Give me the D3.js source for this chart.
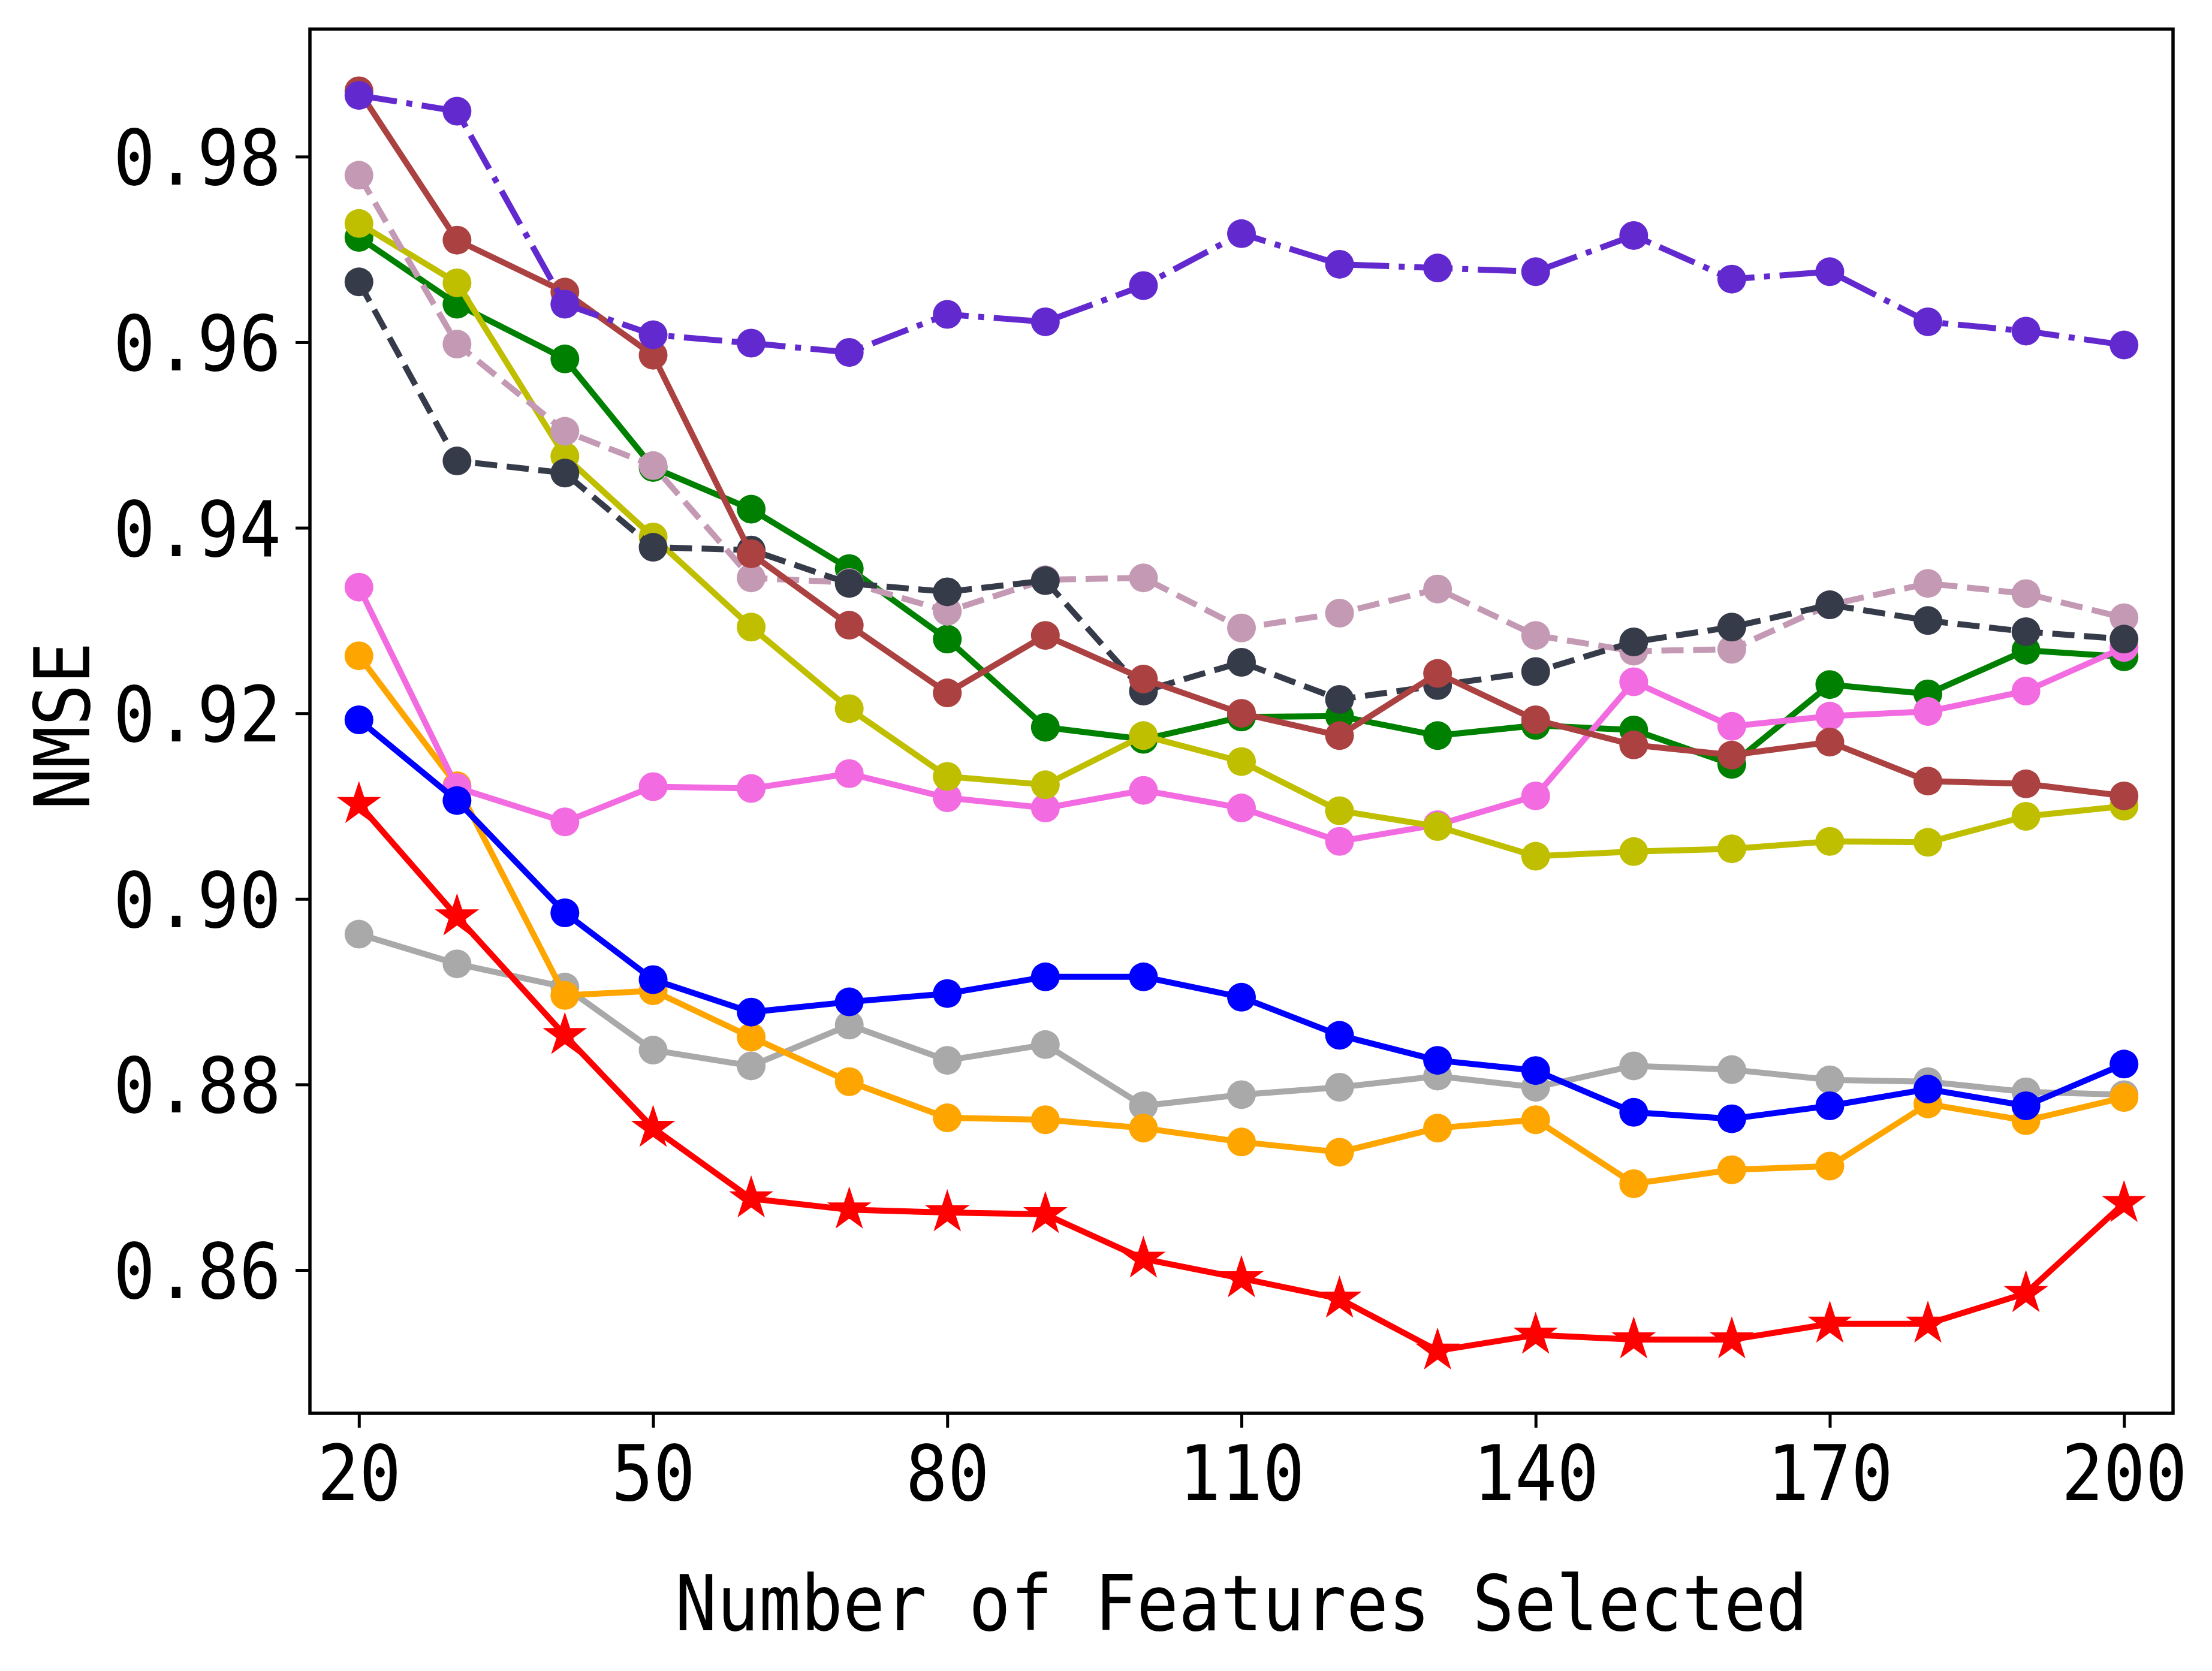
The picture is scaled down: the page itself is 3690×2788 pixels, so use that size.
<!DOCTYPE html>
<html>
<head>
<meta charset="utf-8">
<script src="https://cdn.jsdelivr.net/npm/d3@7"></script>
<style>
  html, body { margin: 0; padding: 0; background: #fff; }
  svg { display: block; }
</style>
</head>
<body>
<svg id="chart" width="3690" height="2788"></svg>
<script>
// ---------------- data ----------------
const features = [20, 30, 41, 50, 60, 70, 80, 90, 100, 110, 120, 130, 140, 150, 160, 170, 180, 190, 200];
const xTickValues = [20, 50, 80, 110, 140, 170, 200];
const yTickValues = [0.86, 0.88, 0.90, 0.92, 0.94, 0.96, 0.98];

const grayVals    = [0.8962,0.8930,0.8905,0.8837,0.8820,0.8864,0.8826,0.8843,0.8777,0.8789,0.8797,0.8809,0.8797,0.8820,0.8816,0.8805,0.8803,0.8792,0.8789];
const orangeVals  = [0.9262,0.9122,0.8896,0.8901,0.8851,0.8803,0.8764,0.8762,0.8753,0.8738,0.8727,0.8753,0.8762,0.8693,0.8708,0.8712,0.8779,0.8761,0.8786];
const greenVals   = [0.9713,0.9641,0.9582,0.9465,0.9420,0.9356,0.9280,0.9185,0.9172,0.9196,0.9197,0.9176,0.9187,0.9182,0.9145,0.9231,0.9221,0.9268,0.9261];
const magentaVals = [0.9336,0.9120,0.9083,0.9121,0.9119,0.9135,0.9109,0.9098,0.9117,0.9098,0.9062,0.9080,0.9111,0.9234,0.9186,0.9197,0.9202,0.9224,0.9271];
const yellowVals  = [0.9728,0.9664,0.9477,0.9390,0.9293,0.9205,0.9132,0.9123,0.9176,0.9148,0.9095,0.9078,0.9046,0.9051,0.9054,0.9062,0.9061,0.9089,0.9100];
const mauveVals   = [0.9780,0.9598,0.9504,0.9467,0.9346,0.9341,0.9310,0.9344,0.9346,0.9292,0.9308,0.9334,0.9284,0.9267,0.9269,0.9317,0.9340,0.9329,0.9303];
const slateVals   = [0.9665,0.9472,0.9459,0.9379,0.9376,0.9340,0.9331,0.9343,0.9224,0.9255,0.9215,0.9230,0.9245,0.9277,0.9293,0.9317,0.9300,0.9288,0.9280];
const brownVals   = [0.9871,0.9710,0.9654,0.9586,0.9372,0.9295,0.9222,0.9284,0.9237,0.9200,0.9176,0.9243,0.9193,0.9166,0.9155,0.9169,0.9127,0.9124,0.9111];
const purpleVals  = [0.9866,0.9849,0.9641,0.9608,0.9599,0.9589,0.9630,0.9622,0.9661,0.9717,0.9684,0.9680,0.9676,0.9715,0.9668,0.9676,0.9622,0.9612,0.9597];
const blueVals    = [0.9193,0.9106,0.8985,0.8913,0.8878,0.8889,0.8898,0.8916,0.8916,0.8894,0.8853,0.8826,0.8815,0.8770,0.8763,0.8777,0.8795,0.8777,0.8822];
const redVals     = [0.9102,0.8981,0.8853,0.8753,0.8677,0.8665,0.8662,0.8660,0.8612,0.8591,0.8569,0.8513,0.8530,0.8525,0.8525,0.8542,0.8542,0.8575,0.8672];

const xLabel = "Number of Features Selected";
const yLabel = "NMSE";

// series table (draw order = list order)
const series = [
  { values: grayVals,    color: "#a9a9a9", dash: null,  marker: "circle" },
  { values: orangeVals,  color: "#ffa500", dash: null,  marker: "circle" },
  { values: greenVals,   color: "#008000", dash: null,  marker: "circle" },
  { values: magentaVals, color: "#f36be0", dash: null,  marker: "circle" },
  { values: yellowVals,  color: "#bfbf00", dash: null,  marker: "circle" },
  { values: mauveVals,   color: "#c499b4", dash: "37,16", marker: "circle" },
  { values: slateVals,   color: "#363b4a", dash: "37,16", marker: "circle" },
  { values: brownVals,   color: "#ab4141", dash: null,  marker: "circle" },
  { values: purpleVals,  color: "#6229cf", dash: "64,16,10,16", marker: "circle" },
  { values: blueVals,    color: "#0000ff", dash: null,  marker: "circle" },
  { values: redVals,     color: "#ff0000", dash: null,  marker: "star" }
];

// ---------------- layout ----------------
const W = 3690, H = 2788;
const plot = { left: 517, right: 3625, top: 48.5, bottom: 2358 };
const FONT = "'DejaVu Sans Mono', 'Liberation Mono', monospace";
const FS = 129;       // font size
const ADV = 70;       // per-character advance

const svg = d3.select("#chart");
svg.append("rect").attr("width", W).attr("height", H).attr("fill", "#fff");

const x = d3.scaleLinear().domain([15, 205]).range([plot.left, plot.right]);
const y = d3.scaleLinear().domain([0.84456, 0.99375]).range([plot.bottom, plot.top]);

// ---------------- series ----------------
const line = d3.line().x((d, i) => x(features[i])).y(d => y(d));
const starSym = d3.symbol().type(d3.symbolStar).size(1300);

const gSeries = svg.append("g");
series.forEach(s => {
  const g = gSeries.append("g");
  g.append("path")
    .datum(s.values)
    .attr("d", line)
    .attr("fill", "none")
    .attr("stroke", s.color)
    .attr("stroke-width", 10)
    .attr("stroke-linejoin", "round")
    .attr("stroke-linecap", s.dash ? "butt" : "round")
    .attr("stroke-dasharray", s.dash);
  if (s.marker === "circle") {
    g.selectAll("circle").data(s.values).enter().append("circle")
      .attr("cx", (d, i) => x(features[i]))
      .attr("cy", d => y(d))
      .attr("r", 24)
      .attr("fill", s.color);
  } else {
    g.selectAll("path.star").data(s.values).enter().append("path")
      .attr("class", "star")
      .attr("d", starSym)
      .attr("transform", (d, i) => `translate(${x(features[i])},${y(d)})`)
      .attr("fill", s.color)
      .attr("stroke", s.color)
      .attr("stroke-width", 3)
      .attr("stroke-linejoin", "miter");
  }
});

// ---------------- axes ----------------
const xAxis = d3.axisBottom(x).tickValues(xTickValues).tickSize(24).tickPadding(0).tickFormat(d3.format("d"));
const yAxis = d3.axisLeft(y).tickValues(yTickValues).tickSize(24).tickPadding(0).tickFormat(d3.format(".2f"));

const gx = svg.append("g").attr("transform", `translate(0,${plot.bottom})`).call(xAxis);
const gy = svg.append("g").attr("transform", `translate(${plot.left},0)`).call(yAxis);

[gx, gy].forEach(g => {
  g.select(".domain").remove();
  g.selectAll(".tick line").attr("stroke", "#000").attr("stroke-width", 5);
  g.selectAll(".tick text")
    .attr("font-family", FONT)
    .attr("font-size", FS)
    .attr("fill", "#000")
    .attr("lengthAdjust", "spacingAndGlyphs")
    .attr("textLength", function() { return this.textContent.length * ADV; });
});
gx.selectAll(".tick text").attr("y", 145).attr("dy", null).attr("text-anchor", "middle");
gy.selectAll(".tick text").attr("x", -48).attr("dy", "0.36em").attr("text-anchor", "end");

// frame
svg.append("rect")
  .attr("x", plot.left).attr("y", plot.top)
  .attr("width", plot.right - plot.left).attr("height", plot.bottom - plot.top)
  .attr("fill", "none").attr("stroke", "#000").attr("stroke-width", 5.5);

// axis labels
svg.append("text")
  .attr("x", (plot.left + plot.right) / 2).attr("y", 2720)
  .attr("text-anchor", "middle")
  .attr("font-family", FONT).attr("font-size", FS).attr("fill", "#000")
  .attr("lengthAdjust", "spacingAndGlyphs")
  .attr("textLength", xLabel.length * ADV)
  .text(xLabel);

svg.append("text")
  .attr("transform", `translate(149,${(plot.top + plot.bottom) / 2 + 8}) rotate(-90)`)
  .attr("text-anchor", "middle")
  .attr("font-family", FONT).attr("font-size", FS).attr("fill", "#000")
  .attr("lengthAdjust", "spacingAndGlyphs")
  .attr("textLength", yLabel.length * ADV)
  .text(yLabel);
</script>
</body>
</html>
